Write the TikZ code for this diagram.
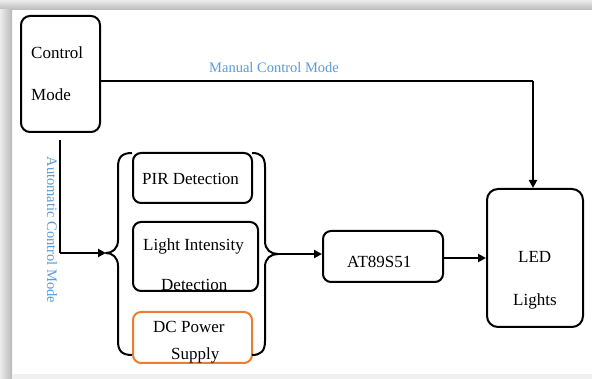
\documentclass[tikz,border=0pt]{standalone}
\usepackage{fontspec}
\setmainfont{Liberation Serif}
\usetikzlibrary{arrows.meta}
\definecolor{lblue}{HTML}{5B9BD5}
\definecolor{orng}{HTML}{ED7D31}
\begin{document}
\begin{tikzpicture}[x=1pt,y=-1pt,
  box/.style={draw, line width=2pt, rounded corners=9pt, inner sep=0pt},
  txt/.style={font=\fontsize{17}{19}\selectfont, inner sep=0pt, anchor=base west},
  lbl/.style={font=\fontsize{14.5}{17}\selectfont, text=lblue, inner sep=0pt},
  conn/.style={line width=2pt},
  arr/.style={line width=2pt, -{Triangle[length=8pt,width=8pt]}},
  brc/.style={line width=2pt, line join=round}]
\useasboundingbox (0,0) rectangle (592,379);
% page shadow
\fill[white] (0,0) rectangle (592,379);
\shade[top color=gray!15, bottom color=gray!55] (0,0) rectangle (592,10);
\shade[left color=gray!15, right color=gray!55] (0,10) rectangle (12,379);
\fill[gray!12] (12,374) rectangle (592,379);
% boxes
\node[box, minimum width=79pt, minimum height=116pt] (ctrl) at (60.5,74) {};
\node[txt] (ctrlT1) at (31,59) {Control};
\node[txt] (ctrlT2) at (31,101) {Mode};
\node[box, rounded corners=8pt, minimum width=119pt, minimum height=50pt] (pir) at (192.5,178) {};
\node[txt] (pirT) at (142,185) {PIR Detection};
\node[box, rounded corners=8pt, minimum width=125pt, minimum height=69pt] (lid) at (195.5,256.5) {};
\node[txt] (lidT1) at (143,251) {Light Intensity};
\node[txt] (lidT2) at (161,291) {Detection};
\node[box, draw=orng, rounded corners=8pt, minimum width=119pt, minimum height=51pt] (dc) at (192.5,337.5) {};
\node[txt] (dcT1) at (153,333) {DC Power};
\node[txt] (dcT2) at (171,360) {Supply};
\node[box, rounded corners=8pt, minimum width=120pt, minimum height=51pt] (at) at (383,256.5) {};
\node[txt] (atT) at (347,268) {AT89S51};
\node[box, rounded corners=11pt, minimum width=96pt, minimum height=138pt] (led) at (535,258) {};
\node[txt] (ledT1) at (518,263) {LED};
\node[txt] (ledT2) at (513,306) {Lights};
% braces
\coordinate (lb) at (106,253);
\coordinate (rb) at (278,254);
\draw[brc] (132,153) .. controls (122,153) and (118,157) .. (118,167) -- (118,240)
  .. controls (118,249) and (112,253) .. (lb)
  .. controls (112,253) and (118,257) .. (118,266) -- (118,341)
  .. controls (118,351) and (122,355) .. (132,355);
\draw[brc] (252,153) .. controls (261,153) and (265,157) .. (265,167) -- (265,241)
  .. controls (265,250) and (271,254) .. (rb)
  .. controls (271,254) and (265,258) .. (265,267) -- (265,341)
  .. controls (265,351) and (261,355) .. (252,355);
% connectors
\coordinate (mc) at (533,81);
\coordinate (ac) at (60,140);
\coordinate (ac2) at (60,253);
\draw[conn] (ctrl.east |- mc) -- (mc);
\draw[arr] (mc) -- (mc |- led.north);
\draw[conn] (ac) -- (ac2);
\draw[arr] (ac2) -- (lb);
\draw[arr] (rb) -- (at.west |- rb);
\draw[arr] (at.east |- 0,258) -- (led.west |- 0,258);
% labels
\node[lbl, anchor=base west] (manL) at (209,73) {Manual Control Mode};
\node[lbl, rotate=-90] (autoL) at (52,230) {Automatic Control Mode};
\end{tikzpicture}
\end{document}
